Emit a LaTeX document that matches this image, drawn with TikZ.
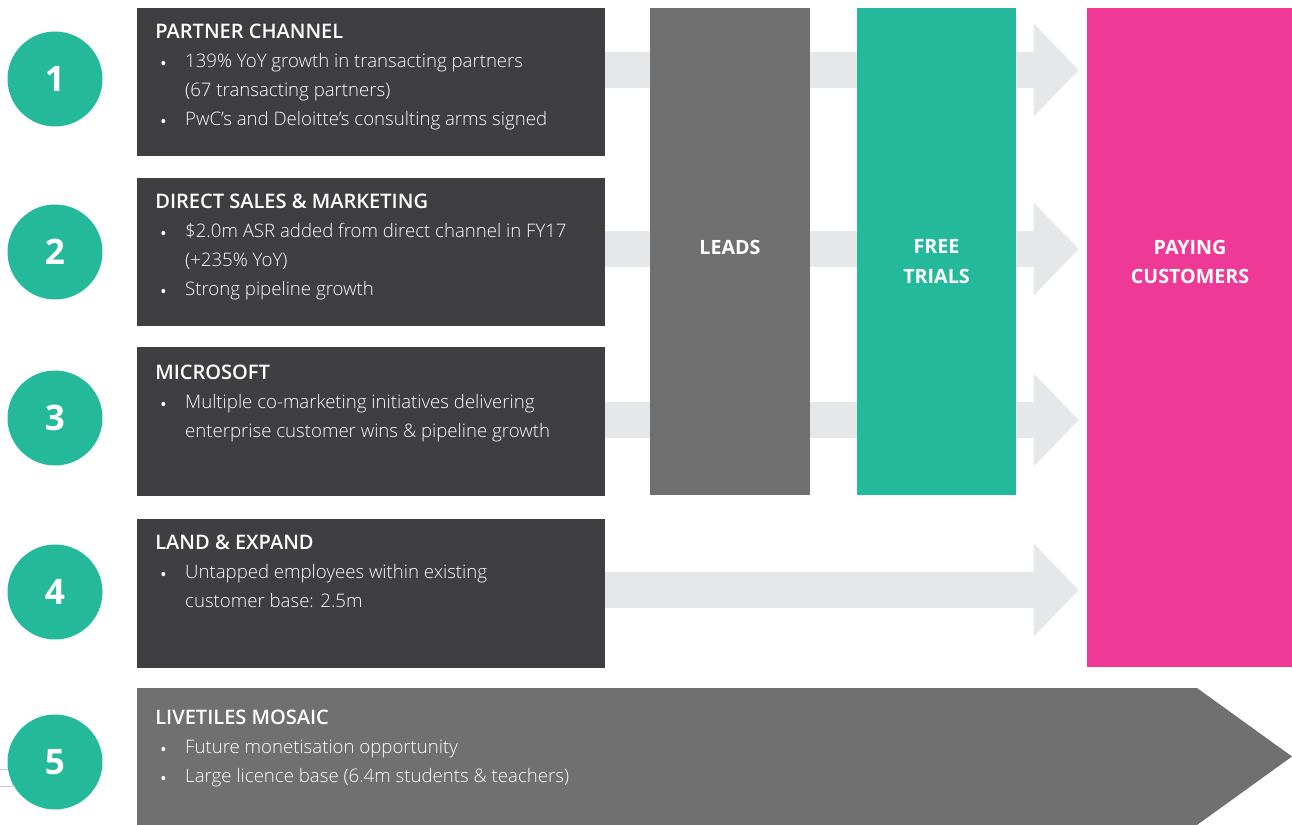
\documentclass[tikz,border=0pt]{standalone}
\usepackage{fontspec}
\setmainfont{Open Sans}
\IfFontExistsTF{Open Sans Light}{\newfontfamily\lightfont{Open Sans Light}}{\newfontfamily\lightfont{Open Sans}}
\usetikzlibrary{arrows.meta}
\definecolor{darkbox}{HTML}{3F3F41}
\definecolor{midgrey}{HTML}{707070}
\definecolor{teal}{HTML}{24B99A}
\definecolor{pink}{HTML}{EE3A96}
\definecolor{flowgrey}{HTML}{E6E7E8}
\newcommand\bul{\makebox[17pt][l]{\hspace{2pt}\raisebox{-2.8pt}{\fontsize{14}{14}\selectfont\textbullet}}}
\newcommand\contline{\hspace*{17pt}}
\newcommand\hd[1]{{\bfseries\fontsize{11.4}{16.4}\selectfont #1}}
\tikzset{
  num/.style={circle,fill=teal,inner sep=0pt,minimum size=1.9cm,text=white,font=\bfseries\fontsize{20}{20}\selectfont},
  dbox/.style={fill=darkbox,inner sep=0pt,minimum width=9.36cm,minimum height=2.97cm},
  stage/.style={inner sep=0pt,minimum width=3.2cm,minimum height=9.74cm},
  txt/.style={anchor=north west,inner sep=0pt,align=left,text=white,font=\lightfont\fontsize{10.6}{16.4}\selectfont},
  lbl/.style={inner sep=0pt,align=center,text=white,font=\bfseries\fontsize{11.2}{17}\selectfont},
  flow/.style={color=flowgrey,line width=0.72cm,-{Triangle[length=0.9cm,width=1.86cm,line width=0pt]},shorten >=0.16cm}
}
\begin{document}
\begin{tikzpicture}[x=0.02cm,y=-0.02cm]
\useasboundingbox (0,0) rectangle (1292,825);
% paying customers column
\node[fill=pink,inner sep=0pt,minimum width=4.1cm,minimum height=13.18cm] (pay) at (1189.5,337.5) {};
% channel boxes
\node[dbox] (b1) at (371,82) {};
\node[dbox] (b2) at (371,252) {};
\node[dbox] (b3) at (371,421.5) {};
\node[dbox] (b4) at (371,593.5) {};
\draw[flow] (b1.east |- 0,70) -- (pay.west |- 0,70);
\draw[flow] (b2.east |- 0,249) -- (pay.west |- 0,249);
\draw[flow] (b3.east |- 0,420) -- (pay.west |- 0,420);
\draw[flow] (b4.east |- 0,590) -- (pay.west |- 0,590);
% funnel stages
\node[stage,fill=midgrey] (leads) at (730,251.5) {};
\node[stage,fill=teal] (trials) at (936.5,251.5) {};
\node[lbl] (leadst) at (730,247) {LEADS};
\node[lbl] (trialst) at (936.5,262) {FREE\\TRIALS};
\node[lbl] (payt) at (1190,262) {PAYING\\CUSTOMERS};
% mosaic
\fill[midgrey] (137,688) -- (1197,688) -- (1292,756.5) -- (1197,825) -- (137,825) -- cycle;
\draw[draw=black!20,fill=white,line width=0.5pt] (-5,769) rectangle (12,786);
% numbers
\node[num] (n1) at (55,79) {1};
\node[num] (n2) at (55,252) {2};
\node[num] (n3) at (55,418) {3};
\node[num] (n4) at (55,592) {4};
\node[num] (n5) at (55,762) {5};
% texts
\node[txt] (t1) at (155,24) {\hd{PARTNER CHANNEL}\\ \bul 139\% YoY growth in transacting partners\\ \contline(67 transacting partners)\\ \bul PwC’s and Deloitte’s consulting arms signed};
\node[txt] (t2) at (155,194) {\hd{DIRECT SALES \& MARKETING}\\ \bul \$2.0m ASR added from direct channel in FY17\\ \contline(+235\% YoY)\\ \bul Strong pipeline growth};
\node[txt] (t3) at (155,365) {\hd{MICROSOFT}\\ \bul Multiple co-marketing initiatives delivering\\ \contline enterprise customer wins \& pipeline growth};
\node[txt] (t4) at (155,535) {\hd{LAND \& EXPAND}\\ \bul Untapped employees within existing\\ \contline customer base: 2.5m};
\node[txt] (t5) at (155,710) {\hd{LIVETILES MOSAIC}\\ \bul Future monetisation opportunity\\ \bul Large licence base (6.4m students \& teachers)};
\end{tikzpicture}
\end{document}
